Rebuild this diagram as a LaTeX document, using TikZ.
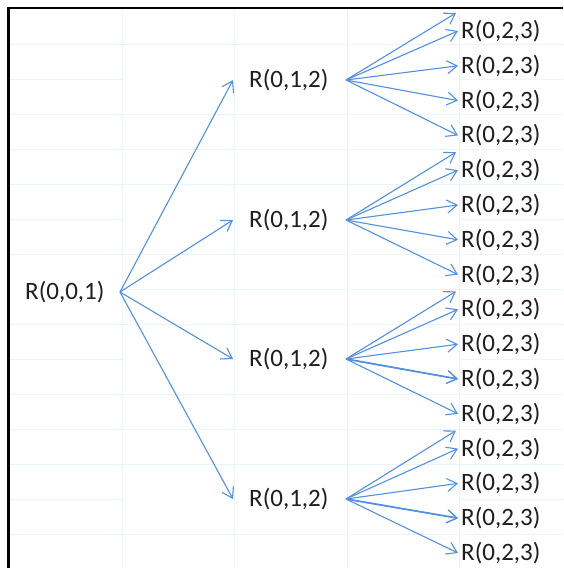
\documentclass[tikz,border=0pt]{standalone}
\usepackage{fontspec}
\setmainfont{Carlito}
\usetikzlibrary{arrows.meta}
\definecolor{arrowblue}{RGB}{84,144,224}
\definecolor{gridblue}{RGB}{234,244,253}
\definecolor{labeltext}{RGB}{30,30,30}
\begin{document}
\begin{tikzpicture}[x=1pt,y=-1pt,
  lbl/.style={anchor=west,inner sep=0pt,text=labeltext,font=\fontsize{25}{29}\selectfont},
  arr/.style={draw=arrowblue,line width=1.1pt,
    -{Straight Barb[length=10pt,width=13pt,line width=1.1pt]}},
  heavyarr/.style={arr,line width=1.7pt},
  gridline/.style={draw=gridblue,line width=1pt},
  frame/.style={draw=black,line width=2.6pt}]
\useasboundingbox (0,0) rectangle (563,568);
\fill[white] (0,0) rectangle (563,568);

% spreadsheet cell grid
\foreach \gx in {122,234.5,347,459.5}
  \draw[gridline] (\gx,9) -- (\gx,568);
\foreach \k in {1,3,4,5,7,9,11,12,13,15}
  \draw[gridline] (9,{9+35*\k}) -- (563,{9+35*\k});
% rows crossing merged cells
\foreach \k in {2,6,10,14} {
  \draw[gridline] (9,{9+35*\k}) -- (122,{9+35*\k});
  \draw[gridline] (459.5,{9+35*\k}) -- (563,{9+35*\k});
}
\draw[gridline] (122,289) -- (563,289);

% sheet border
\draw[frame] (8.5,568) -- (8.5,8) -- (563,8);

% labels
\node[lbl] (root) at (25,292) {R(0,0,1)};
\foreach \i/\yy in {1/80,2/220,3/359,4/499}
  \node[lbl] (m\i) at (249,\yy) {R(0,1,2)};
\foreach \i in {1,...,16}
  \node[lbl] (l\i) at (461,{31+34.8*(\i-1)}) {R(0,2,3)};

% first level
\foreach \g in {1,...,4}
  \draw[arr] ([xshift=95pt]root.west) -- ([xshift=-16pt]m\g.west);

% second level
\foreach \g in {1,...,4} {
  \pgfmathtruncatemacro\first{4*(\g-1)+1}
  \draw[arr] ([xshift=97pt]m\g.west) -- ([xshift=-5pt,yshift=18pt]l\first.west);
  \foreach \j in {0,...,3} {
    \pgfmathtruncatemacro\leaf{\first+\j}
    \draw[arr] ([xshift=97pt]m\g.west) -- ([xshift=-3pt]l\leaf.west);
  }
}
\draw[heavyarr] ([xshift=97pt]m3.west) -- ([xshift=-3pt]l11.west);
\draw[heavyarr] ([xshift=97pt]m4.west) -- ([xshift=-3pt]l15.west);
\end{tikzpicture}
\end{document}
